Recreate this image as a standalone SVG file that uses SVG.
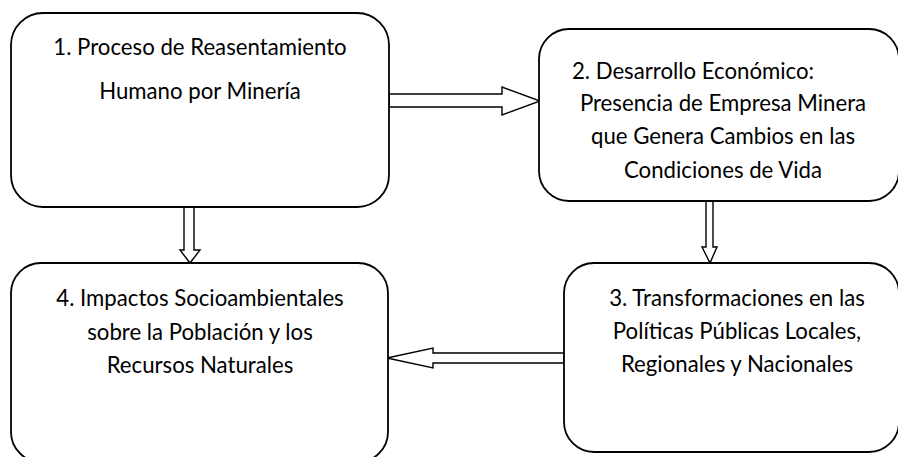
<svg xmlns="http://www.w3.org/2000/svg" width="898" height="457" viewBox="0 0 898 457">
<style>
.box{fill:#fff;stroke:#000;stroke-width:1.8}
.arr{fill:#fff;stroke:#000;stroke-width:1.4;stroke-linejoin:miter}
text{font-family:Lato,"Liberation Sans",sans-serif;font-size:22.2px;fill:#000;text-anchor:middle}
</style>
<rect width="898" height="457" fill="#fff"/>
<g id="connectors">
<polygon class="arr" points="389,94 502,94 502,87 540,101 502,115 502,107 389,107"/>
<polygon class="arr" points="184,207 184,250 180,250 190,263 200,250 194,250 194,207"/>
<polygon class="arr" points="706,201 706,247 702,247 710,263 717,247 713,247 713,201"/>
<polygon class="arr" points="564,353 433,353 433,348 387,358 433,368 433,363 564,363"/>
</g>
<g id="node1">
<rect class="box" x="11" y="13" width="378" height="194" rx="32" ry="32"/>
<text x="200" y="55">1. Proceso de Reasentamiento</text>
<text x="200" y="99">Humano por Minería</text>
</g>
<g id="node2">
<rect class="box" x="539" y="29" width="360" height="172" rx="30" ry="30"/>
<text x="693" y="79">2. Desarrollo Económico:</text>
<text x="723" y="111">Presencia de Empresa Minera</text>
<text x="723" y="144">que Genera Cambios en las</text>
<text x="723" y="178">Condiciones de Vida</text>
</g>
<g id="node3">
<rect class="box" x="564" y="263" width="335" height="189" rx="30" ry="30"/>
<text x="737" y="306">3. Transformaciones en las</text>
<text x="737" y="339">Políticas Públicas Locales,</text>
<text x="737" y="372">Regionales y Nacionales</text>
</g>
<g id="node4">
<rect class="box" x="11" y="263" width="377" height="199" rx="30" ry="30"/>
<text x="200" y="306">4. Impactos Socioambientales</text>
<text x="200" y="340">sobre la Población y los</text>
<text x="200" y="373">Recursos Naturales</text>
</g>
</svg>
